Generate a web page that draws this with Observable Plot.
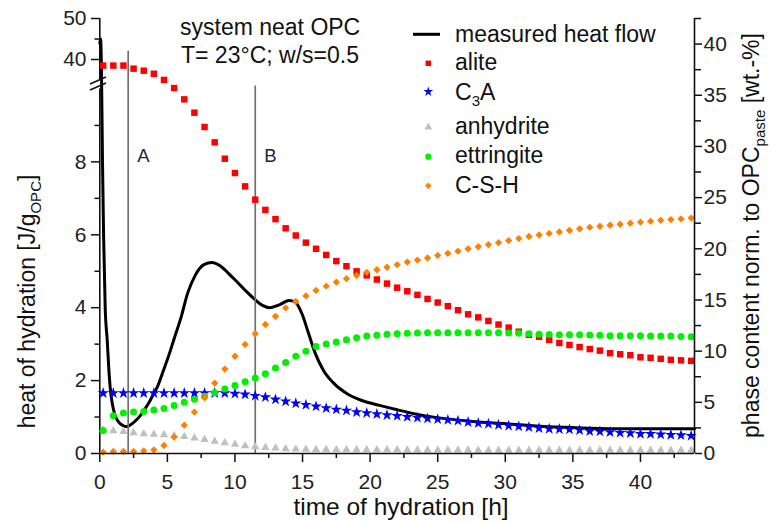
<!DOCTYPE html>
<html>
<head>
<meta charset="utf-8">
<script src="https://cdn.jsdelivr.net/npm/d3@7"></script>
<script src="https://cdn.jsdelivr.net/npm/@observablehq/plot@0.6"></script>
<style>
  body { margin: 0; background: #fff; }
  #chart { position: relative; width: 771px; height: 522px; }
  #chart svg { position: absolute; left: 0; top: 0; }
</style>
</head>
<body>
<div id="chart"></div>
<script>
// ---------------- data ----------------
const heatTime = [0, 0.06, 0.12, 0.2, 0.28, 0.4, 0.55, 0.67, 0.79, 0.9, 1.03, 1.2, 1.4, 1.65, 1.9, 2.15, 2.4, 2.7, 3.0, 3.3, 3.6, 3.9, 4.25, 4.7, 5.15, 5.5, 6.0, 6.5, 7.05, 7.7, 8.3, 8.9, 9.5, 10.15, 10.8, 11.4, 12.0, 12.6, 13.35, 14.0, 14.45, 14.95, 15.45, 15.95, 16.55, 17.3, 18.3, 19.5, 20.7, 22.0, 23.7, 25.7, 27.6, 29.9, 32.6, 35.0, 38.2, 41.0, 44.0];
const heatFlow = [44, 45, 38, 8, 6, 4, 3.1, 2.3, 1.73, 1.42, 1.18, 0.98, 0.86, 0.78, 0.74, 0.76, 0.82, 0.92, 1.04, 1.2, 1.37, 1.58, 1.82, 2.27, 2.74, 3.15, 3.72, 4.4, 4.88, 5.18, 5.24, 5.15, 4.95, 4.71, 4.46, 4.25, 4.07, 4.0, 4.09, 4.2, 4.16, 3.84, 3.29, 2.74, 2.28, 1.93, 1.64, 1.44, 1.32, 1.2, 1.06, 0.95, 0.88, 0.82, 0.75, 0.71, 0.68, 0.68, 0.68];

const phaseTime = [0.25, 1, 1.75, 2.5, 3.25, 4, 4.75, 5.5, 6.25, 7, 7.75, 8.5, 9.25, 10, 10.75, 11.5, 12.25, 13, 13.75, 14.5, 15.25, 16, 16.75, 17.5, 18.25, 19, 19.75, 20.5, 21.25, 22, 22.75, 23.5, 24.25, 25, 25.75, 26.5, 27.25, 28, 28.75, 29.5, 30.25, 31, 31.75, 32.5, 33.25, 34, 34.75, 35.5, 36.25, 37, 37.75, 38.5, 39.25, 40, 40.75, 41.5, 42.25, 43, 43.75];
const alite = [37.9, 37.9, 37.9, 37.6, 37.4, 37.1, 36.5, 35.7, 34.6, 33.3, 31.9, 30.4, 28.8, 27.4, 26.1, 24.8, 23.8, 22.9, 22.0,
  21.3, 20.6, 20.0, 19.4, 18.8, 18.3, 17.8, 17.4, 17.0, 16.6, 16.2, 15.85, 15.5, 15.1, 14.75, 14.4, 14.0, 13.6, 13.3, 12.95,
  12.6, 12.3, 11.9, 11.6, 11.4, 11.1, 10.8, 10.6, 10.4, 10.2, 10.05, 9.8, 9.7, 9.6, 9.4, 9.35, 9.25, 9.15, 9.1, 9.05];
const c3a = [5.9, 5.9, 5.9, 5.9, 5.9, 5.9, 5.9, 5.9, 5.9, 5.9, 5.9, 5.9, 5.9,
  5.84, 5.77, 5.64, 5.5, 5.28, 5.09, 4.9, 4.75, 4.6, 4.43, 4.3, 4.2, 4.04, 3.95, 3.85, 3.75, 3.67, 3.58, 3.5, 3.42, 3.35, 3.28, 3.2,
  3.07, 2.97, 2.9, 2.8, 2.71, 2.64, 2.58, 2.48, 2.41, 2.38, 2.35, 2.28, 2.18, 2.15, 2.09, 2.02, 1.99, 1.92, 1.92, 1.86, 1.82, 1.79, 1.73];
const anhydrite = [2.3, 2.22, 2.15, 2.02, 1.92, 1.88, 1.83, 1.75, 1.65, 1.5, 1.35, 1.2, 1.05, 0.9, 0.75, 0.65, 0.58, 0.52, 0.46, 0.42, 0.4,
  0.38, 0.38, 0.37, 0.37, 0.36, 0.36, 0.35, 0.35, 0.35, 0.34, 0.34, 0.34, 0.33, 0.33, 0.33, 0.33, 0.32, 0.32, 0.32, 0.32,
  0.31, 0.31, 0.31, 0.31, 0.31, 0.3, 0.3, 0.3, 0.3, 0.3, 0.3, 0.3, 0.3, 0.3, 0.3, 0.3, 0.3, 0.3];
const ettringite = [2.25, 3.7, 3.95, 4.05, 4.1, 4.25, 4.4, 4.7, 5.0, 5.3, 5.6, 5.94, 6.3, 6.65, 7.0, 7.37, 7.8, 8.35, 8.9, 9.5,
  10.0, 10.45, 10.7, 10.9, 11.12, 11.3, 11.48, 11.55, 11.65, 11.7, 11.75, 11.77, 11.8, 11.8, 11.8, 11.8, 11.8, 11.8,
  11.8, 11.8, 11.78, 11.75, 11.7, 11.65, 11.62, 11.6, 11.6, 11.6, 11.57, 11.55, 11.5, 11.5, 11.5, 11.5, 11.48, 11.48, 11.47, 11.43, 11.4];
const csh = [0.13, 0.2, 0.2, 0.2, 0.25, 0.36, 0.78, 1.6, 2.77, 4.04, 5.45, 6.88, 8.25, 9.5, 10.65, 11.7, 12.6, 13.4, 14.22, 14.85,
  15.4, 15.93, 16.35, 16.75, 17.08, 17.4, 17.7, 17.95, 18.2, 18.45, 18.7, 18.9, 19.1, 19.35, 19.55, 19.77, 20.0, 20.2,
  20.4, 20.6, 20.8, 21.0, 21.2, 21.35, 21.5, 21.65, 21.8, 21.95, 22.1, 22.2, 22.3, 22.4, 22.5, 22.6, 22.7, 22.78, 22.85, 22.92, 23.0];

const seriesNames = ["alite", "C3A", "anhydrite", "ettringite", "C-S-H"];
const seriesColors = ["#ff0000", "#0000ff", "#c0c0c0", "#00f000", "#ff8000"];
const seriesSymbols = ["square", "star", "triangle", "circle", "diamond2"];
const heatName = "measured heat flow";

const markerLabels = ["A", "B"];
const markerTimes = [2.1, 11.5];
const markerTops = [39.3, 35.9];     // right-axis units
const markerLabelY = 29.1;

const xTicks = [0, 5, 10, 15, 20, 25, 30, 35, 40];
const xMinor = [2.5, 7.5, 12.5, 17.5, 22.5, 27.5, 32.5, 37.5, 42.5];
const leftTicks = [0, 2, 4, 6, 8, 40, 50];
const leftMinor = [1, 3, 5, 7, 9, 45];
const rightTicks = [0, 5, 10, 15, 20, 25, 30, 35, 40];
const rightMinor = [2.5, 7.5, 12.5, 17.5, 22.5, 27.5, 32.5, 37.5, 42.5];

const annotLines = ["system neat OPC", "T= 23°C; w/s=0.5"];

// ---------------- layout ----------------
const FONT = '"Liberation Sans", Arial, Helvetica, sans-serif';
const common = {
  width: 771, height: 522,
  marginLeft: 99, marginRight: 77, marginTop: 18, marginBottom: 69,
  style: {fontFamily: FONT, fontSize: "21px", color: "#222", background: "transparent", overflow: "visible"}
};
const xScale = {domain: [0, 44], range: [99.3, 694]};

const heat = heatTime.map((t, i) => ({t, v: heatFlow[i]}));
const seriesValues = [alite, c3a, anhydrite, ettringite, csh];
const phases = seriesValues.map((vals, s) => vals.map((v, i) => ({t: phaseTime[i], v, s})));

// bottom layer: heat flow with broken left axis
const leftAxisSegments = [{y1: 0, y2: 10}, {y1: 35, y2: 50}];
const p1 = Plot.plot({
  ...common,
  x: {...xScale, axis: null},
  y: {type: "linear", domain: [0, 10, 35, 50], range: [453, 88.5, 79.5, 18]},
  marks: [
    Plot.ruleX(leftAxisSegments, {x: 0, y1: "y1", y2: "y2", stroke: "#111", strokeWidth: 1.6}),
    Plot.axisY({ticks: leftTicks, tickSize: 8, tickPadding: 5, label: null, fontSize: 21, stroke: "#111", strokeWidth: 1.5}),
    Plot.axisY({ticks: leftMinor, tickSize: 4.5, tickFormat: () => "", label: null, stroke: "#111", strokeWidth: 1.5}),
    Plot.line(heat, {x: "t", y: "v", stroke: "#000", strokeWidth: 3, curve: "monotone-x"})
  ]
});

// top layer: phase contents, right axis, x axis
const p2 = Plot.plot({
  ...common,
  x: xScale,
  y: {domain: [0, 42.5], range: [453, 18]},
  marks: [
    Plot.ruleX(markerTimes, {x: d => d, y1: 0, y2: (d, i) => markerTops[i], stroke: "#707070", strokeWidth: 1.7}),
    Plot.text(markerLabels, {x: (d, i) => markerTimes[i], y: markerLabelY, text: d => d, dx: 9, textAnchor: "start", fontSize: 18.5, fill: "#1e2540"}),
    ...phases.map((data, s) => Plot.dot(data, {
      x: "t", y: "v", symbol: seriesSymbols[s], fill: seriesColors[s], stroke: "none",
      r: [3.65, 3.6, 3.1, 3.5, 3.3][s]
    })),
    Plot.ruleY([0], {x1: 0, x2: 44, stroke: "#111", strokeWidth: 1.6}),
    Plot.ruleX([44], {y1: 0, y2: 42.5, stroke: "#111", strokeWidth: 1.6}),
    Plot.axisX({ticks: xTicks, tickSize: 9, tickPadding: 12, label: null, fontSize: 21, stroke: "#111", strokeWidth: 1.5}),
    Plot.axisX({ticks: xMinor, tickSize: 5, tickFormat: () => "", label: null, stroke: "#111", strokeWidth: 1.5}),
    Plot.axisY({anchor: "right", ticks: rightTicks, tickSize: 7, tickPadding: 2, label: null, fontSize: 21, stroke: "#111", strokeWidth: 1.5}),
    Plot.axisY({anchor: "right", ticks: rightMinor, tickSize: 6, tickFormat: () => "", label: null, stroke: "#111", strokeWidth: 1.5})
  ]
});

const chart = document.getElementById("chart");
chart.appendChild(p1);
chart.appendChild(p2);

// ---------------- decorations: break marks, titles, legend ----------------
const s1 = d3.select(p1);
const brk = s1.append("g").attr("stroke", "#111").attr("stroke-width", 1.6);
brk.append("line").attr("x1", 90).attr("y1", 84).attr("x2", 106).attr("y2", 77);
brk.append("line").attr("x1", 90).attr("y1", 90).attr("x2", 106).attr("y2", 83);

const s2 = d3.select(p2);
const deco = s2.append("g").attr("font-family", FONT).attr("fill", "#111").attr("text-anchor", "start");

// annotation
deco.append("text").attr("x", 180).attr("y", 35).attr("font-size", 23).attr("text-anchor", "start").text(annotLines[0]);
deco.append("text").attr("x", 181).attr("y", 63).attr("font-size", 23).attr("text-anchor", "start").text(annotLines[1]);

// x title
deco.append("text").attr("x", 401).attr("y", 515).attr("text-anchor", "middle").attr("font-size", 24.5)
  .text("time of hydration [h]");

// left title
const lt = deco.append("text").attr("transform", "translate(35,301.5) rotate(-90)")
  .attr("text-anchor", "middle").attr("font-size", 23);
lt.append("tspan").text("heat of hydration [J/g");
lt.append("tspan").attr("font-size", 15).attr("dy", 6).text("OPC");
lt.append("tspan").attr("dy", -6).text("]");

// right title
const rt = deco.append("text").attr("transform", "translate(759,235.5) rotate(-90)")
  .attr("text-anchor", "middle").attr("font-size", 23);
rt.append("tspan").text("phase content norm. to OPC");
rt.append("tspan").attr("font-size", 15).attr("dy", 6).text("paste");
rt.append("tspan").attr("dy", -6).text(" [wt.-%]");

// legend
const lg = deco.append("g").attr("font-size", 23).attr("text-anchor", "start");
lg.append("line").attr("x1", 413).attr("x2", 440).attr("y1", 34.3).attr("y2", 34.3)
  .attr("stroke", "#000").attr("stroke-width", 3);
lg.append("text").attr("x", 455).attr("y", 41.7).attr("text-anchor", "start").text(heatName);
const rowMarkerY = [63.3, 91.7, 127.3, 156.7, 185.7];
const rowTextY = [70, 100, 134, 163.3, 192.7];
const d3Symbols = {square: d3.symbolSquare, star: d3.symbolStar, triangle: d3.symbolTriangle, circle: d3.symbolCircle, diamond2: d3.symbolDiamond2};
const legendSizes = [30, 30, 26, 30, 28];
seriesNames.forEach((name, s) => {
  lg.append("path")
    .attr("transform", `translate(428.3,${rowMarkerY[s]})`)
    .attr("d", d3.symbol(d3Symbols[seriesSymbols[s]], legendSizes[s])())
    .attr("fill", seriesColors[s]);
  const t = lg.append("text").attr("x", 455).attr("y", rowTextY[s]).attr("text-anchor", "start");
  if (name === "C3A") {
    t.append("tspan").text("C");
    t.append("tspan").attr("font-size", 15).attr("dy", 6).text("3");
    t.append("tspan").attr("dy", -6).text("A");
  } else {
    t.text(name);
  }
});
</script>
</body>
</html>
